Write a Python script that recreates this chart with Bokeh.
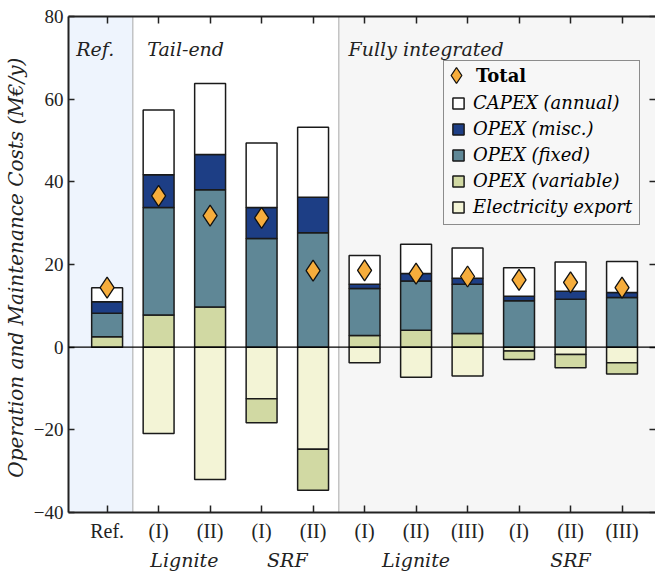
from bokeh.plotting import figure
from bokeh.models import (ColumnDataSource, FixedTicker, LinearAxis, Range1d,
                          BoxAnnotation, Span, Label, Legend, LegendItem)
from bokeh.embed import file_html
from bokeh.resources import INLINE

# ---------------- data ----------------
categories = ["Ref.", "(I)", "(II)", "(I)", "(II)", "(I)", "(II)", "(III)", "(I)", "(II)", "(III)"]
sections = ["Ref.", "Tail-end", "Fully integrated"]
section_bounds = [0.5, 4.5]
fuel_groups = ["Lignite", "SRF", "Lignite", "SRF"]
fuel_group_members = [[1, 2], [3, 4], [5, 6, 7], [8, 9, 10]]

capex_annual = [3.4, 15.7, 17.2, 15.6, 16.9, 7.0, 7.1, 7.3, 6.9, 7.1, 7.5]
opex_misc = [2.8, 7.9, 8.5, 7.5, 8.6, 1.0, 1.8, 1.5, 1.1, 1.9, 1.2]
opex_fixed = [5.7, 26.0, 28.4, 26.3, 27.7, 11.4, 11.9, 11.9, 11.2, 11.6, 12.0]
opex_variable = [2.5, 7.8, 9.7, -5.8, -9.9, 2.8, 4.1, 3.3, -2.1, -3.2, -2.7]
electricity_export = [0.0, -20.9, -32.0, -12.5, -24.7, -3.8, -7.3, -7.0, -0.9, -1.8, -3.8]
total = [14.4, 36.6, 31.8, 31.3, 18.5, 18.6, 17.8, 17.1, 16.3, 15.7, 14.4]

y_ticks = [-40, -20, 0, 20, 40, 60, 80]

# stacking order (export first below zero, then variable)
series = [
    ("Electricity export", electricity_export, "#f3f4d6"),
    ("OPEX (variable)", opex_variable, "#d1d9a3"),
    ("OPEX (fixed)", opex_fixed, "#5f8796"),
    ("OPEX (misc.)", opex_misc, "#1d3e85"),
    ("CAPEX (annual)", capex_annual, "#ffffff"),
]

SERIF = "Liberation Serif"
ITAL = "DejaVu Serif"
DARK = "#222222"

p = figure(width=655, height=573,
           x_range=Range1d(-0.75, 10.65), y_range=Range1d(-40, 80),
           output_backend="svg", toolbar_location=None,
           min_border_left=68, min_border_right=0, min_border_top=16, min_border_bottom=61,
           background_fill_color="white", border_fill_color="white",
           outline_line_color=None)
p.grid.visible = False

# region shading
p.add_layout(BoxAnnotation(right=section_bounds[0], fill_color="#eef4fd", fill_alpha=1,
                           line_color=None, level="underlay"))
p.add_layout(BoxAnnotation(left=section_bounds[1], fill_color="#f6f6f6", fill_alpha=1,
                           line_color=None, level="underlay"))
for b in section_bounds:
    p.add_layout(Span(location=b, dimension="height", line_color="#a8a8a8",
                      line_width=1, level="underlay"))

# stacked bars
n = len(categories)
xs = list(range(n))
pos = [0.0] * n
neg = [0.0] * n
rend = {}
for name, vals, color in series:
    bottoms, tops = [], []
    for i, v in enumerate(vals):
        if v >= 0:
            bottoms.append(pos[i]); tops.append(pos[i] + v); pos[i] += v
        else:
            tops.append(neg[i]); bottoms.append(neg[i] + v); neg[i] += v
    src = ColumnDataSource(dict(x=xs, bottom=bottoms, top=tops))
    rend[name] = p.vbar(x="x", bottom="bottom", top="top", width=0.6, source=src,
                        fill_color=color, line_color="#1a1a1a", line_width=1.5)

# zero line
p.add_layout(Span(location=0, dimension="width", line_color="black", line_width=1.2))

# totals
tsrc = ColumnDataSource(dict(x=xs, y=total))
r_total = p.scatter(x="x", y="y", source=tsrc, marker="diamond", size=21,
                    fill_color="#f6ad3c", line_color="#111111", line_width=1.3)

# axes
def style_axis(ax):
    ax.axis_line_color = DARK
    ax.axis_line_width = 2
    ax.major_tick_line_color = DARK
    ax.major_tick_line_width = 1.5
    ax.major_tick_in = 7
    ax.major_tick_out = 0
    ax.minor_tick_line_color = None

xa = p.xaxis[0]
style_axis(xa)
xa.ticker = FixedTicker(ticks=xs)
xa.major_label_overrides = {i: c for i, c in enumerate(categories)}
xa.major_label_text_font = SERIF
xa.major_label_text_font_size = "20px"
xa.major_label_text_color = DARK
xa.major_label_standoff = 7

# second row below: fuel group labels
g_ticks, g_over = [], {}
for g, members in zip(fuel_groups, fuel_group_members):
    cx = sum(members) / len(members)
    key = int(cx) if float(cx).is_integer() else cx
    g_ticks.append(key)
    g_over[key] = g
group_ax = LinearAxis(ticker=FixedTicker(ticks=g_ticks), major_label_overrides=g_over,
                      axis_line_color=None, major_tick_line_color=None,
                      minor_tick_line_color=None, major_tick_in=0, major_tick_out=0,
                      major_label_standoff=4, major_label_text_font=ITAL,
                      major_label_text_font_style="italic",
                      major_label_text_font_size="19px", major_label_text_color=DARK)
p.add_layout(group_ax, "below")

ya = p.yaxis[0]
style_axis(ya)
ya.major_tick_in = 6
ya.ticker = FixedTicker(ticks=y_ticks)
ya.major_label_text_font = SERIF
ya.major_label_text_font_size = "19px"
ya.major_label_text_color = DARK
ya.major_label_standoff = 5
ya.axis_label = "Operation and Maintenance Costs  (M€/y)"
ya.axis_label_text_font = ITAL
ya.axis_label_text_font_style = "italic"
ya.axis_label_text_font_size = "20px"
ya.axis_label_text_color = DARK
ya.axis_label_standoff = 3

top_ax = LinearAxis(ticker=FixedTicker(ticks=xs),
                    major_label_overrides={i: "" for i in xs},
                    major_label_text_font_size="0px", major_label_standoff=0)
style_axis(top_ax)
p.add_layout(top_ax, "above")

right_ax = LinearAxis(ticker=FixedTicker(ticks=y_ticks),
                      major_label_overrides={t: "" for t in y_ticks},
                      major_label_text_font_size="0px", major_label_standoff=0)
style_axis(right_ax)
right_ax.major_tick_in = 6
right_ax.axis_line_color = None
p.add_layout(right_ax, "right")

# section headers (inside the frame)
for s, sx in zip(sections, [-0.6, 0.78, 4.69]):
    p.add_layout(Label(x=sx, y=72.1, text=s, text_align="left", text_baseline="alphabetic",
                       text_font=ITAL, text_font_style="italic", text_font_size="19px",
                       text_color=DARK))

# legend: bordered box with italic entries, bold "Total" row on top
legend_a = Legend(
    items=[LegendItem(label=name, renderers=[rend[name]]) for name in
           ["CAPEX (annual)", "OPEX (misc.)", "OPEX (fixed)", "OPEX (variable)", "Electricity export"]],
    location=(375, 287), title=" ", title_text_font_size="18px", title_standoff=3,
    padding=7, spacing=5, glyph_width=14, glyph_height=14, label_height=21,
    label_standoff=8, label_text_font=ITAL, label_text_font_style="italic",
    label_text_font_size="18px", label_text_color="black",
    border_line_color=DARK, border_line_width=1.5,
    background_fill_color="#f7f7f7", background_fill_alpha=1, margin=0)
p.add_layout(legend_a)

legend_b = Legend(
    items=[LegendItem(label="Total", renderers=[r_total])],
    location=(368, 417), padding=7, spacing=0, glyph_width=40, glyph_height=40,
    label_standoff=-9, label_text_font=ITAL, label_text_font_style="bold",
    label_text_font_size="18px", label_text_color="black",
    border_line_color=None, background_fill_alpha=0, margin=0)
p.add_layout(legend_b)

open("out.html", "w").write(file_html(p, INLINE))
